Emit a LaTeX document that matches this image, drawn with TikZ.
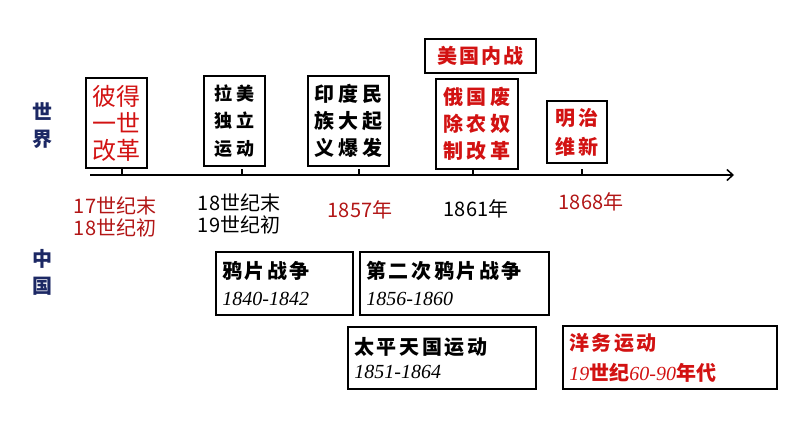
\documentclass[tikz,border=0pt]{standalone}
\usepackage{fontspec}
\setmainfont{Liberation Serif}
\newfontfamily\cjk{Noto Sans CJK SC}
\usetikzlibrary{arrows.meta}
\definecolor{tred}{RGB}{210,18,18}
\definecolor{dred}{RGB}{178,22,22}
\definecolor{navy}{RGB}{28,40,100}
\begin{document}
\begin{tikzpicture}[x=1pt,y=-1pt,
  box/.style={draw=black, line width=1.6pt, inner sep=0pt, align=center},
  fancy/.style={font={\cjk\bfseries\addfontfeature{LetterSpace=#1}\fontsize{20}{27}\selectfont}},
  datelbl/.style={font={\cjk\fontsize{20}{22}\selectfont}, align=center, inner sep=0pt},
  side/.style={font={\cjk\bfseries\fontsize{20}{27}\selectfont}, text=navy, align=center, inner sep=0pt},
  lowtxt/.style={anchor=west, align=left, inner sep=0pt, xshift=7pt},
  tickmark/.style={line width=1.4pt}
]
\useasboundingbox (0,0) rectangle (794,447);

% side labels
\node[side] (world) at (42,126) {世\\界};
\node[side] (china) at (42,272) {中\\国};

% timeline
\coordinate (tlS) at (90,175);
\coordinate (tlE) at (734,175);
\draw[line width=1.5pt, -{Straight Barb[length=6pt,width=11pt,line width=1.5pt]}] (tlS) -- (tlE);
\foreach \x/\n in {122/a,242/b,359/c,473/d,582/e}{
  \coordinate (t\n) at (\x,175);
  \draw[tickmark] (t\n) -- ++(0,-6);
}

% top boxes
\node[box, minimum width=61pt, minimum height=90pt, text=tred,
      font={\cjk\fontsize{24}{27}\selectfont}] (peter) at (116.5,123) {彼得\\一世\\改革};
\node[box, minimum width=61pt, minimum height=90pt,
      font={\cjk\bfseries\addfontfeature{LetterSpace=26}\fontsize{18}{27.5}\selectfont}] (latam) at (234.5,121) {拉美\\独立\\运动};
\node[box, minimum width=81pt, minimum height=90pt, fancy=20] (india) at (348.5,121) {印度民\\族大起\\义爆发};
\node[box, minimum width=111pt, minimum height=34pt, fancy=10, text=tred] (uswar) at (480.5,56) {美国内战};
\node[box, minimum width=82pt, minimum height=90pt, fancy=16, text=tred] (russia) at (477,124) {俄国废\\除农奴\\制改革};
\node[box, minimum width=60pt, minimum height=62pt, text=tred,
      font={\cjk\bfseries\addfontfeature{LetterSpace=12}\fontsize{20}{29}\selectfont}] (meiji) at (577,132) {明治\\维新};

% date labels
\node[datelbl, text=dred] (d1) at (115,216.5) {17世纪末\\18世纪初};
\node[datelbl] (d2) at (239,214) {18世纪末\\19世纪初};
\node[datelbl, text=dred] (d3) at (360,210) {1857年};
\node[datelbl] (d4) at (476,209) {1861年};
\node[datelbl, text=dred] (d5) at (591,202) {1868年};

% bottom boxes
\node[box, minimum width=137pt, minimum height=63pt] (opium1) at (284.5,283.5) {};
\node[lowtxt, font={\fontsize{20}{27}\selectfont}] (opium1t) at (opium1.west)
  {{\cjk\bfseries\addfontfeature{LetterSpace=12}鸦片战争}\\\itshape 1840-1842};
\node[box, minimum width=189pt, minimum height=63pt] (opium2) at (454.5,283.5) {};
\node[lowtxt, font={\fontsize{20}{27}\selectfont}] (opium2t) at (opium2.west)
  {{\cjk\bfseries\addfontfeature{LetterSpace=13}第二次鸦片战争}\\\itshape 1856-1860};
\node[box, minimum width=188pt, minimum height=62pt] (taiping) at (442,358) {};
\node[lowtxt, font={\fontsize{20}{23.5}\selectfont}] (taipingt) at (taiping.west)
  {{\cjk\bfseries\addfontfeature{LetterSpace=13}太平天国运动}\\\itshape 1851-1864};
\node[box, minimum width=214pt, minimum height=63pt] (yangwu) at (670,357.5) {};
\node[lowtxt, text=tred, font={\fontsize{20}{30}\selectfont}] (yangwut) at (yangwu.west)
  {{\cjk\bfseries\addfontfeature{LetterSpace=12}洋务运动}\\{\itshape 19}{\cjk\bfseries 世纪}{\itshape 60-90}{\cjk\bfseries 年代}};
\end{tikzpicture}
\end{document}
